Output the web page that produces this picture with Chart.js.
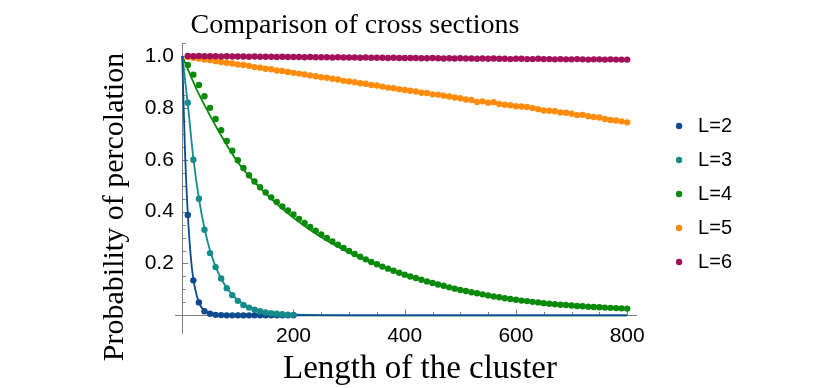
<!DOCTYPE html>
<html>
<head>
<meta charset="utf-8">
<script src="https://cdn.jsdelivr.net/npm/chart.js@4.4.1/dist/chart.umd.min.js"></script>
<style>
  html, body { margin: 0; padding: 0; background: #fff; }
  #wrap { width: 831px; height: 388px; position: relative; }
</style>
</head>
<body>
<div id="wrap"><canvas id="chart"></canvas></div>
<script>
// cluster lengths where the simulation was sampled
const lengths = [10, 20, 30, 40, 50, 60, 70, 80, 90, 100,
  110, 120, 130, 140, 150, 160, 170, 180, 190, 200,
  210, 220, 230, 240, 250, 260, 270, 280, 290, 300,
  310, 320, 330, 340, 350, 360, 370, 380, 390, 400,
  410, 420, 430, 440, 450, 460, 470, 480, 490, 500,
  510, 520, 530, 540, 550, 560, 570, 580, 590, 600,
  610, 620, 630, 640, 650, 660, 670, 680, 690, 700,
  710, 720, 730, 740, 750, 760, 770, 780, 790, 800];

// simulated probabilities (L=2 and L=3 only sampled up to 200)
const probL2 = [0.387, 0.135, 0.05, 0.016, 0.006, 0.002, 0.001, 0, 0, 0,
  0, 0, 0, 0, 0, 0, 0, 0, 0, 0];
const probL3 = [0.82, 0.60, 0.45, 0.33, 0.24, 0.186, 0.142, 0.105, 0.078, 0.056,
  0.04, 0.03, 0.022, 0.016, 0.011, 0.008, 0.006, 0.004, 0.003, 0.002];
const probL4 = [0.965, 0.928, 0.888, 0.845, 0.80, 0.757, 0.714, 0.672, 0.635, 0.598,
  0.568, 0.54, 0.516, 0.494, 0.474, 0.455, 0.437, 0.42, 0.404, 0.389,
  0.372, 0.356, 0.341, 0.326, 0.312, 0.298, 0.285, 0.272, 0.26, 0.248,
  0.237, 0.226, 0.216, 0.206, 0.197, 0.188, 0.18, 0.172, 0.164, 0.157,
  0.15, 0.144, 0.137, 0.131, 0.125, 0.119, 0.114, 0.108, 0.103, 0.098,
  0.094, 0.089, 0.085, 0.081, 0.077, 0.073, 0.07, 0.066, 0.063, 0.06,
  0.057, 0.055, 0.052, 0.05, 0.047, 0.045, 0.043, 0.041, 0.04, 0.038,
  0.036, 0.035, 0.033, 0.032, 0.031, 0.03, 0.029, 0.028, 0.027, 0.026];
const probL5 = [0.996, 0.993, 0.99, 0.986, 0.984, 0.98, 0.977, 0.974, 0.971, 0.967,
  0.965, 0.962, 0.957, 0.955, 0.951, 0.949, 0.944, 0.942, 0.938, 0.935,
  0.932, 0.929, 0.925, 0.922, 0.918, 0.916, 0.912, 0.909, 0.904, 0.902,
  0.899, 0.895, 0.893, 0.888, 0.886, 0.882, 0.878, 0.876, 0.872, 0.869,
  0.866, 0.863, 0.858, 0.857, 0.852, 0.851, 0.847, 0.844, 0.84, 0.837,
  0.832, 0.83, 0.823, 0.825, 0.82, 0.822, 0.815, 0.812, 0.81, 0.806,
  0.805, 0.803, 0.799, 0.795, 0.79, 0.789, 0.787, 0.782, 0.781, 0.777,
  0.772, 0.773, 0.768, 0.765, 0.763, 0.757, 0.753, 0.751, 0.748, 0.744];
const probL6 = [1.0, 0.999, 1.0, 0.999, 0.999, 0.999, 0.998, 0.999, 0.998, 0.998,
  0.998, 0.997, 0.998, 0.997, 0.997, 0.997, 0.996, 0.997, 0.996, 0.996,
  0.996, 0.995, 0.996, 0.995, 0.995, 0.995, 0.994, 0.995, 0.994, 0.994,
  0.994, 0.993, 0.994, 0.993, 0.993, 0.993, 0.992, 0.993, 0.992, 0.992,
  0.992, 0.992, 0.991, 0.991, 0.992, 0.991, 0.99, 0.991, 0.99, 0.991,
  0.99, 0.99, 0.989, 0.99, 0.989, 0.99, 0.989, 0.989, 0.988, 0.989,
  0.989, 0.988, 0.988, 0.989, 0.988, 0.988, 0.987, 0.988, 0.987, 0.987,
  0.988, 0.987, 0.986, 0.987, 0.987, 0.986, 0.987, 0.986, 0.986, 0.986];

// fitted curves
const fitX2 = [0, 5, 10, 15, 20, 30, 40, 50, 60, 80, 100, 800];
const fitY2 = [1.0, 0.63, 0.39, 0.235, 0.14, 0.05, 0.018, 0.006, 0.002, 0.0003, 0, 0];
const fitX3 = [0, 10, 20, 30, 40, 50, 60, 70, 80, 90, 100, 120, 140, 160, 180, 200, 250, 300, 800];
const fitY3 = [1.0, 0.815, 0.605, 0.45, 0.335, 0.25, 0.188, 0.142, 0.106, 0.08, 0.058, 0.033, 0.019, 0.011, 0.006, 0.0035, 0.001, 0.0002, 0];
const fitX4 = [0, 25, 50, 75, 100, 125, 150, 175, 200, 250, 300, 350, 400, 450, 500, 550, 600, 650, 700, 750, 800];
const fitY4 = [1.0, 0.875, 0.77, 0.675, 0.59, 0.525, 0.47, 0.42, 0.376, 0.301, 0.242, 0.194, 0.156, 0.125, 0.1, 0.079, 0.062, 0.049, 0.039, 0.031, 0.025];

// labelled ticks
const xTicks = [200, 400, 600, 800];
const yTicks = [0.2, 0.4, 0.6, 0.8, 1.0];

const seriesNames = ['L=2', 'L=3', 'L=4', 'L=5', 'L=6'];
const colors = ['#0e4b8e', '#168b8b', '#0a8a0a', '#ff8c0c', '#a3115a'];
const axisColor = '#808080';

const chartTitle = 'Comparison of cross sections';
const xTitle = 'Length of the cluster';
const yTitle = 'Probability of percolation';

const toPoints = (xs, ys) => ys.map((v, i) => ({x: xs[i], y: v}));

const dots = [probL2, probL3, probL4, probL5, probL6].map((vals, i) => ({
    type: 'scatter',
    label: seriesNames[i],
    data: toPoints(lengths, vals),
    backgroundColor: colors[i],
    borderColor: colors[i],
    pointRadius: 3.2,
    pointBorderWidth: 0,
    pointHoverRadius: 3.2,
    order: 5 - i
}));

const fits = [[fitX2, fitY2], [fitX3, fitY3], [fitX4, fitY4]].map(([xs, ys], i) => ({
    type: 'line',
    label: 'fit ' + seriesNames[i],
    data: toPoints(xs, ys),
    borderColor: colors[i],
    backgroundColor: colors[i],
    borderWidth: 1.8,
    pointRadius: 0,
    cubicInterpolationMode: 'monotone',
    order: 10
}));

// minor/major tick marks drawn inside the axes, plus the frame texts
const axisDecor = {
    id: 'axisDecor',
    beforeDatasetsDraw(chart) {
        const {ctx, scales: {x, y}} = chart;
        const x0 = x.getPixelForValue(0);
        const y0 = y.getPixelForValue(0);
        ctx.save();
        ctx.strokeStyle = axisColor;
        ctx.lineWidth = 1;
        ctx.beginPath();
        for (let v = 50; v <= 800; v += 50) {
            const px = Math.round(x.getPixelForValue(v)) + 0.5;
            const len = v % 200 === 0 ? 6 : 3.5;
            ctx.moveTo(px, y0);
            ctx.lineTo(px, y0 - len);
        }
        for (let k = 1; k <= 21; k++) {
            const py = Math.round(y.getPixelForValue(k * 0.05)) + 0.5;
            const len = k % 4 === 0 ? 6 : 3.5;
            ctx.moveTo(x0, py);
            ctx.lineTo(x0 + len, py);
        }
        ctx.stroke();
        ctx.restore();
    },
    afterDraw(chart) {
        const {ctx} = chart;
        ctx.save();
        ctx.fillStyle = '#000';
        ctx.textAlign = 'center';
        ctx.textBaseline = 'alphabetic';
        ctx.font = '28px "Liberation Serif"';
        ctx.fillText(chartTitle, 355, 33);
        ctx.font = '33px "Liberation Serif"';
        ctx.fillText(xTitle, 420, 378);
        ctx.font = '30px "Liberation Serif"';
        ctx.translate(123, 207);
        ctx.rotate(-Math.PI / 2);
        ctx.fillText(yTitle, 0, 0);
        ctx.restore();
    }
};

new Chart(document.getElementById('chart'), {
    data: {datasets: [...dots, ...fits]},
    options: {
        responsive: true,
        maintainAspectRatio: false,
        animation: false,
        layout: {padding: {left: 175, top: 43, bottom: 55, right: 89}},
        plugins: {
            legend: {
                position: 'right',
                title: {display: true, text: ' ', padding: 0, font: {size: 10}},
                labels: {
                    usePointStyle: true,
                    pointStyle: 'circle',
                    boxWidth: 18,
                    boxHeight: 4.5,
                    padding: 14,
                    color: '#000',
                    font: {family: 'Liberation Sans', size: 20},
                    filter: item => !item.text.startsWith('fit'),
                    sort: (a, b) => a.datasetIndex - b.datasetIndex
                }
            },
            tooltip: {enabled: false}
        },
        scales: {
            x: {
                type: 'linear',
                position: {y: 0},
                min: -13,
                max: 816,
                afterBuildTicks: s => { s.ticks = xTicks.map(v => ({value: v})); },
                grid: {display: false, drawTicks: false},
                border: {display: true, color: axisColor, width: 1},
                ticks: {
                    autoSkip: false,
                    padding: 8,
                    maxRotation: 0,
                    color: '#000',
                    font: {family: 'Liberation Sans', size: 21},
                    callback: v => String(v)
                }
            },
            y: {
                type: 'linear',
                position: {x: 0},
                min: -0.068,
                max: 1.05,
                afterBuildTicks: s => { s.ticks = yTicks.map(v => ({value: v})); },
                grid: {display: false, drawTicks: false},
                border: {display: true, color: axisColor, width: 1},
                ticks: {
                    autoSkip: false,
                    color: '#000',
                    font: {family: 'Liberation Sans', size: 21},
                    // positioned axis ignores padding, so keep a small gap with thin spaces
                    callback: v => v.toFixed(1) + '\u2009\u2009'
                }
            },
            // empty scale that only keeps a gap between the plot and the legend
            gap: {
                type: 'linear',
                position: 'right',
                display: true,
                grid: {display: false, drawTicks: false},
                border: {display: false},
                ticks: {display: false},
                afterFit: s => { s.width = 20; }
            }
        }
    },
    plugins: [axisDecor]
});
</script>
</body>
</html>
